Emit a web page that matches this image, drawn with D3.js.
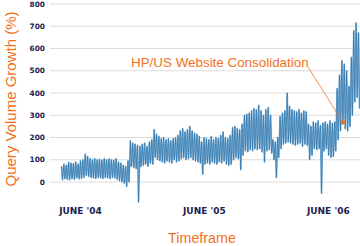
<!DOCTYPE html>
<html>
<head>
<meta charset="utf-8">
<script src="https://cdn.jsdelivr.net/npm/d3@7"></script>
<style>
  html, body { margin: 0; padding: 0; background: #fff; }
  svg { display: block; }
</style>
</head>
<body>
<div id="chart"></div>
<script>
// weekly series, starting week of 18 Apr 2004 (weekday peak / weekend trough, % growth)
var firstWeek = "2004-04-18";
var weekHigh = [
    70, 80, 75, 88, 85, 82, 90, 80, 95, 100,
    125, 115, 105, 100, 105, 100, 102, 98, 105, 100,
    104, 100, 98, 105, 90, 85, 75, 70, 95, 185,
    175, 170, 165, 160, 170, 175, 160, 180, 190, 235,
    215, 205, 195, 200, 190, 195, 185, 195, 200, 210,
    230, 240, 225, 235, 250, 230, 220, 215, 205, 180,
    200, 195, 190, 205, 190, 200, 195, 210, 225, 200,
    195, 210, 245, 250, 240, 235, 260, 300, 305, 310,
    320, 330, 325, 345, 320, 300, 325, 335, 300, 190,
    180, 200, 295, 310, 320, 400, 340, 325, 320, 315,
    325, 310, 320, 315, 260, 250, 270, 265, 275, 255,
    265, 270, 260, 275, 265, 270, 420, 480, 545, 530,
    500, 430, 560, 680, 715, 670
];
var weekLow = [
    10, 15, 12, 10, 15, 12, 18, 14, 16, 20,
    30, 25, 20, 18, 15, 20, 18, 15, 20, 18,
    15, 20, 18, 12, 5, 0, -5, -20, 0, 70,
    65, 60, -90, 70, 75, 80, 70, 85, 80, 110,
    100, 95, 90, 85, 95, 90, 85, 100, 90, 95,
    105, 110, 100, 105, 110, 100, 95, 90, 85, 35,
    80, 85, 80, 90, 85, 80, 90, 85, 95, 80,
    75, 80, 100, 110, 105, 55, 120, 140, 135, 145,
    140, 150, 145, 150, 135, 90, 140, 145, 130, 100,
    20, 110, 150, 170, 175, 180, 175, 170, 165, 170,
    175, 160, 170, 165, 100, 120, 150, 145, 150, -50,
    140, 150, 120, 110, 115, 140, 190, 230, 260, 240,
    230, 250, 300, 360, 380, 330
];
var yTicks = [0, 100, 200, 300, 400, 500, 600, 700, 800];
var xTickDates = ["2004-06-15", "2005-06-15", "2006-06-15"];
var xTickLabels = ["JUNE '04", "JUNE '05", "JUNE '06"];
var noteText = "HP/US Website Consolidation";
var noteDate = "2006-07-28";
var noteValue = 268;

var width = 360, height = 246;
var orange = "#f37021", navy = "#1d1d4f";
var parse = d3.timeParse("%Y-%m-%d");

var svg = d3.select("#chart").append("svg")
    .attr("width", width)
    .attr("height", height);

var x = d3.scaleTime()
    .domain([parse("2004-06-15"), parse("2006-06-15")])
    .range([80.5, 328.3]);
var y = d3.scaleLinear()
    .domain([0, 800])
    .range([182, 4]);

// gridlines
svg.append("g").selectAll("line")
    .data(yTicks)
    .enter().append("line")
    .attr("x1", 50).attr("x2", width)
    .attr("y1", function (d) { return y(d); })
    .attr("y2", function (d) { return y(d); })
    .attr("stroke", "#dcdcdc")
    .attr("stroke-width", 1);

// y tick labels
svg.append("g").selectAll("text")
    .data(yTicks)
    .enter().append("text")
    .attr("x", 45)
    .attr("y", function (d) { return y(d); })
    .attr("dy", "0.36em")
    .attr("text-anchor", "end")
    .attr("font-family", "DejaVu Sans")
    .attr("font-weight", "bold")
    .attr("font-size", 7.4)
    .attr("fill", navy)
    .text(function (d) { return d; });

// x tick labels
svg.append("g").selectAll("text")
    .data(xTickDates)
    .enter().append("text")
    .attr("x", function (d) { return x(parse(d)); })
    .attr("y", 214)
    .attr("text-anchor", "middle")
    .attr("font-family", "DejaVu Sans")
    .attr("font-weight", "bold")
    .attr("font-size", 9)
    .attr("fill", navy)
    .text(function (d, i) { return xTickLabels[i]; });

// build the zig-zag points: peak mid-week, trough at the weekend
var start = parse(firstWeek);
var points = [];
weekHigh.forEach(function (h, i) {
    points.push({ date: d3.timeDay.offset(start, i * 7 + 2), value: h });
    points.push({ date: d3.timeDay.offset(start, i * 7 + 5), value: weekLow[i] });
});

var line = d3.line()
    .x(function (d) { return x(d.date); })
    .y(function (d) { return y(d.value); });

svg.append("path")
    .datum(points)
    .attr("d", line)
    .attr("fill", "none")
    .attr("stroke", "#86b6da")
    .attr("stroke-width", 1.7)
    .attr("stroke-linejoin", "round");

svg.append("path")
    .datum(points)
    .attr("d", line)
    .attr("fill", "none")
    .attr("stroke", "#1f68a0")
    .attr("stroke-width", 0.55)
    .attr("stroke-linejoin", "round");

// annotation
var nx = x(parse(noteDate)), ny = y(noteValue);
svg.append("line")
    .attr("x1", 308).attr("y1", 67)
    .attr("x2", nx).attr("y2", ny)
    .attr("stroke", orange)
    .attr("stroke-width", 0.8);
svg.append("circle")
    .attr("cx", nx).attr("cy", ny)
    .attr("r", 2.2)
    .attr("fill", orange);
svg.append("text")
    .attr("x", 131)
    .attr("y", 66.5)
    .attr("font-family", "Liberation Sans")
    .attr("font-size", 13.4)
    .attr("fill", orange)
    .text(noteText);

// axis titles
svg.append("text")
    .attr("transform", "translate(16,99) rotate(-90)")
    .attr("text-anchor", "middle")
    .attr("font-family", "Liberation Sans")
    .attr("font-size", 15)
    .attr("fill", orange)
    .text("Query Volume Growth (%)");

svg.append("text")
    .attr("x", 202)
    .attr("y", 243)
    .attr("text-anchor", "middle")
    .attr("font-family", "Liberation Sans")
    .attr("font-size", 14.3)
    .attr("fill", orange)
    .text("Timeframe");
</script>
</body>
</html>
